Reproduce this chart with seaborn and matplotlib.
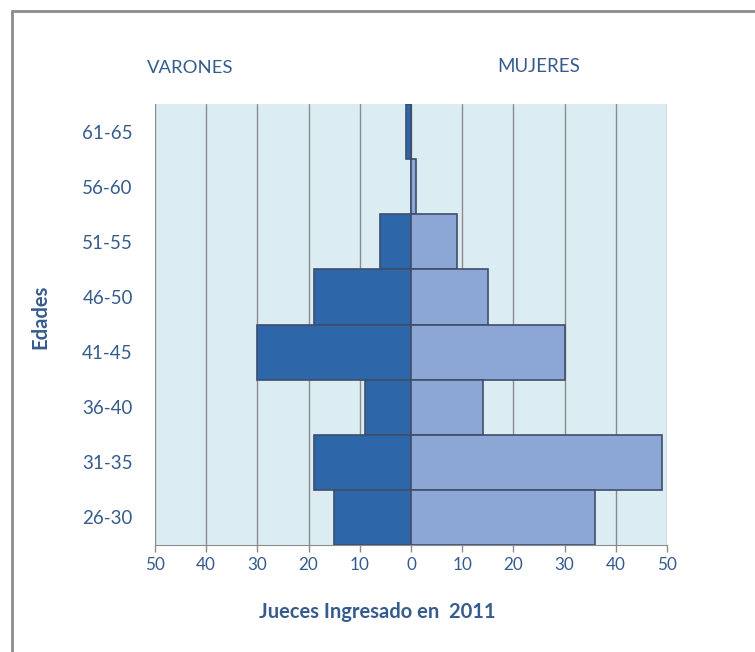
import matplotlib
matplotlib.use("Agg")
import matplotlib.pyplot as plt
import seaborn as sns
import pandas as pd
from matplotlib.lines import Line2D

# Datos (de arriba hacia abajo)
edades = ['61-65', '56-60', '51-55', '46-50', '41-45', '36-40', '31-35', '26-30']
varones = [1, 0, 6, 19, 30, 9, 19, 15]
mujeres = [0, 1, 9, 15, 30, 14, 49, 36]
ticks_x = [-50, -40, -30, -20, -10, 0, 10, 20, 30, 40, 50]

df = pd.concat([
    pd.DataFrame({'edad': edades, 'valor': [-v for v in varones], 'sexo': 'VARONES'}),
    pd.DataFrame({'edad': edades, 'valor': mujeres, 'sexo': 'MUJERES'}),
])

sns.set_style("white")
plt.rcParams['font.family'] = ['Lato', 'DejaVu Sans']

azul_texto = '#365C8D'
fig = plt.figure(figsize=(7.55, 6.52), dpi=100)
ax = fig.add_axes([155 / 755, 1 - 545 / 652, 512 / 755, 441 / 652])
ax.set_facecolor('#DBEDF3')

sns.barplot(data=df, y='edad', x='valor', hue='sexo', order=edades,
            palette={'VARONES': '#2E66AA', 'MUJERES': '#8CA6D6'}, saturation=1,
            dodge=False, width=1.0, orient='h', legend=False,
            edgecolor='#3E4E6A', linewidth=1.2, ax=ax, zorder=3)

for t in ticks_x:
    ax.axvline(t, color='#8C8C8C', lw=1, zorder=1)

ax.set_xlim(-50, 50)
ax.set_xticks(ticks_x)
ax.set_xticklabels([str(abs(t)) for t in ticks_x])
ax.tick_params(axis='x', colors='#8C8C8C', labelcolor=azul_texto, labelsize=12.3,
               length=5, width=1, direction='out', bottom=True, pad=4)
ax.tick_params(axis='y', labelcolor=azul_texto, labelsize=13.5, length=0, pad=16)
for s in ['top', 'right', 'left']:
    ax.spines[s].set_visible(False)
ax.spines['bottom'].set_color('#8C8C8C')

ax.set_xlabel('')
ax.set_ylabel('')

fig.text(190 / 755, 1 - 68 / 652, 'VARONES', ha='center', va='center',
         color=azul_texto, fontsize=13.3)
fig.text(539 / 755, 1 - 66 / 652, 'MUJERES', ha='center', va='center',
         color=azul_texto, fontsize=13.5)
fig.text(40 / 755, 1 - 317 / 652, 'Edades', ha='center', va='center', rotation=90,
         color=azul_texto, fontsize=14.5, fontweight='bold')
fig.text(377 / 755, 1 - 612 / 652, 'Jueces Ingresado en  2011', ha='center', va='center',
         color=azul_texto, fontsize=14.5, fontweight='bold')

# Borde del área del gráfico
fig.add_artist(Line2D([12 / 755, 12 / 755], [0, 1 - 11 / 652], color='#8C8C8C', lw=2,
                      transform=fig.transFigure))
fig.add_artist(Line2D([12 / 755, 1], [1 - 11 / 652, 1 - 11 / 652], color='#8C8C8C', lw=2,
                      transform=fig.transFigure))

fig.savefig('out.png', dpi=100)
